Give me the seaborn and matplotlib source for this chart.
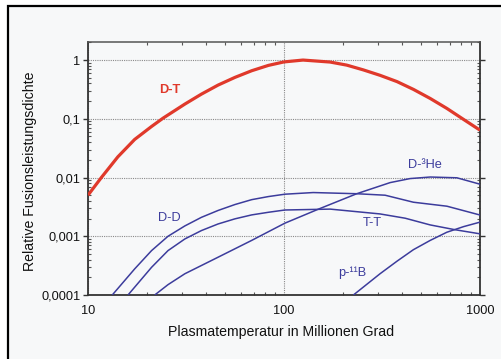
import numpy as np
import pandas as pd
import matplotlib
matplotlib.use("Agg")
import matplotlib.pyplot as plt
from matplotlib.patches import Rectangle
from matplotlib.ticker import FixedLocator, FixedFormatter, LogLocator, NullFormatter
import seaborn as sns

# ---------------- data ----------------
dt_x = [10, 11.7, 14.2, 17.3, 21.1, 24.2, 31.2, 37.9, 46.1, 56.2, 68.4, 83.2, 100,
        125, 172, 209, 254, 309, 377, 458, 557, 678, 825, 1000]
dt_y = [0.005, 0.01, 0.0225, 0.0445, 0.074, 0.103, 0.178, 0.263, 0.375, 0.507, 0.658, 0.811, 0.93,
        1.0, 0.925, 0.82, 0.68, 0.55, 0.43, 0.316, 0.222, 0.15, 0.0974, 0.064]

dd_x = [13.3, 17.3, 21.1, 25.6, 31.2, 37.9, 46.1, 56.2, 68.4, 83.2, 101, 141, 235, 328, 457, 678, 1000]
dd_y = [0.0001, 0.000278, 0.00057, 0.001, 0.0015, 0.0021, 0.00275, 0.00347, 0.0042, 0.00474, 0.0052,
        0.00555, 0.0053, 0.0050, 0.0038, 0.00325, 0.0023]

tt_x = [16, 21.1, 25.6, 31.2, 37.9, 46.1, 56.2, 68.4, 83.2, 101, 172, 309, 415, 557, 748, 1000]
tt_y = [0.0001, 0.000296, 0.00057, 0.0009, 0.00125, 0.00162, 0.00198, 0.00231, 0.00256, 0.0028,
        0.0029, 0.0024, 0.00203, 0.00156, 0.00129, 0.0011]

dhe_x = [21.9, 25.6, 31.2, 46.1, 68.4, 101, 150, 235, 348, 440, 557, 762, 1000]
dhe_y = [0.0001, 0.00015, 0.00023, 0.00044, 0.00085, 0.00167, 0.0029, 0.0053, 0.0082, 0.0096,
         0.0102, 0.0099, 0.0077]

pb_x = [226, 309, 377, 457, 557, 677, 825, 1000]
pb_y = [0.0001, 0.00023, 0.000376, 0.00059, 0.00085, 0.00117, 0.00146, 0.00174]

series_names = ["D-T", "D-D", "T-T", "D-³He", "p-¹¹B"]

x_ticks = [10, 100, 1000]
x_tick_labels = ["10", "100", "1000"]
y_ticks = [0.0001, 0.001, 0.01, 0.1, 1]
y_tick_labels = ["0,0001", "0,001", "0,01", "0,1", "1"]

x_label = "Plasmatemperatur in Millionen Grad"
y_label = "Relative Fusionsleistungsdichte"

# ---------------- styling ----------------
RED = "#e0392b"
BLUE = "#3c3c9c"
BG = "#f7f8f9"

sns.set_theme(style="white")
plt.rcParams["font.family"] = ["Liberation Sans", "DejaVu Sans"]
plt.rcParams["axes.unicode_minus"] = False

frames = []
for name, xs, ys in zip(series_names,
                        [dt_x, dd_x, tt_x, dhe_x, pb_x],
                        [dt_y, dd_y, tt_y, dhe_y, pb_y]):
    frames.append(pd.DataFrame({"T": xs, "P": ys, "reaction": name}))
df = pd.concat(frames, ignore_index=True)

fig = plt.figure(figsize=(5.02, 3.59), dpi=100)
fig.patch.set_facecolor("white")
# framed inner panel
fig.patches.append(Rectangle((8 / 502, -0.05), 1.2, (359 - 6) / 359 + 0.05,
                             transform=fig.transFigure, facecolor=BG,
                             edgecolor="black", linewidth=1.6, zorder=-10))

ax = fig.add_axes([88 / 502, 1 - 295 / 359, 392 / 502, (295 - 42) / 359])
ax.set_facecolor(BG)

palette = {"D-T": RED, "D-D": BLUE, "T-T": BLUE, "D-³He": BLUE, "p-¹¹B": BLUE}
sizes = {"D-T": 2.3, "D-D": 1.1, "T-T": 1.1, "D-³He": 1.1, "p-¹¹B": 1.1}
sns.lineplot(data=df, x="T", y="P", hue="reaction", size="reaction",
             palette=palette, sizes=sizes, estimator=None, sort=True,
             legend=False, ax=ax, zorder=3)
for ln in ax.get_lines():
    ln.set_solid_joinstyle("round")
    ln.set_solid_capstyle("butt")

ax.set_xscale("log")
ax.set_yscale("log")
ax.set_xlim(10, 1000)
ax.set_ylim(1e-4, 2.03)

ax.xaxis.set_major_locator(FixedLocator(x_ticks))
ax.xaxis.set_major_formatter(FixedFormatter(x_tick_labels))
ax.yaxis.set_major_locator(FixedLocator(y_ticks))
ax.yaxis.set_major_formatter(FixedFormatter(y_tick_labels))
ax.xaxis.set_minor_locator(LogLocator(base=10, subs=np.arange(2, 10)))
ax.yaxis.set_minor_locator(LogLocator(base=10, subs=np.arange(2, 10)))
ax.xaxis.set_minor_formatter(NullFormatter())
ax.yaxis.set_minor_formatter(NullFormatter())

spine_col = "#333333"
for s in ["left", "bottom", "right"]:
    ax.spines[s].set_color(spine_col)
    ax.spines[s].set_linewidth(1.3)
    ax.spines[s].set_visible(True)
ax.spines["top"].set_color("#555555")
ax.spines["top"].set_linewidth(1.1)
ax.spines["top"].set_visible(True)

ax.tick_params(axis="both", which="major", direction="out", length=3.5,
               width=1.0, color=spine_col, labelsize=9.2, labelcolor="#111111",
               pad=2)
ax.tick_params(axis="both", which="minor", direction="in", length=2.5,
               width=0.8, color="#555555")
ax.tick_params(axis="x", which="minor", top=True, bottom=True)
ax.tick_params(axis="y", which="minor", left=True, right=True)
ax.tick_params(axis="y", which="major", right=True, left=True)
ax.tick_params(axis="x", which="major", pad=4)

ax.grid(True, which="major", color="#8a8a8a", linestyle=(0, (1, 1)), linewidth=0.8)
ax.grid(False, which="minor")

ax.set_xlabel(x_label, fontsize=10.2, color="#111111")
ax.set_ylabel(y_label, fontsize=10.2, color="#111111")
ax.xaxis.set_label_coords(0.493, -0.12)
ax.yaxis.set_label_coords(-0.13, 0.49)

# curve labels
ax.text(26.1, 0.31, "D-T", color=RED, fontsize=9.2, fontweight="bold", ha="center", va="center")
ax.text(26.1, 0.00203, "D-D", color=BLUE, fontsize=9.2, ha="center", va="center")
ax.text(282, 0.00166, "T-T", color=BLUE, fontsize=9.2, ha="center", va="center")
ax.text(525, 0.0163, "D-³He", color=BLUE, fontsize=9.2, ha="center", va="center")
ax.text(222, 0.000235, "p-¹¹B", color=BLUE, fontsize=9.2, ha="center", va="center")

fig.savefig("out.png", dpi=100, facecolor=fig.get_facecolor())
